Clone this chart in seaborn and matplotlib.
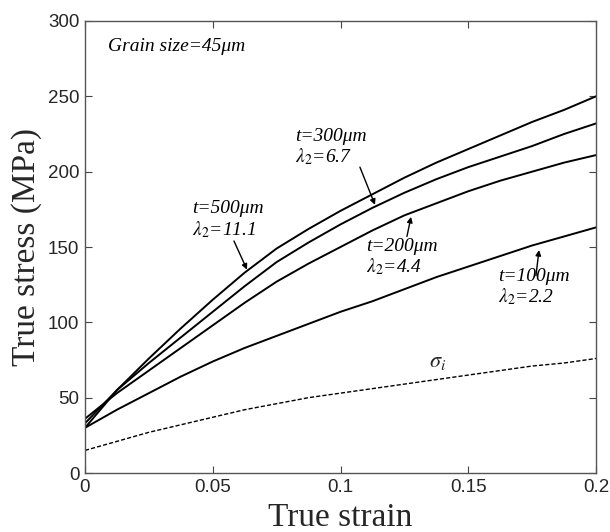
import numpy as np
import pandas as pd
import matplotlib
matplotlib.use('Agg')
import matplotlib.pyplot as plt
import seaborn as sns

# strain points
strain = [0, 0.0125, 0.025, 0.0375, 0.05, 0.0625, 0.075, 0.0875, 0.1,
          0.1125, 0.125, 0.1375, 0.15, 0.1625, 0.175, 0.1875, 0.2]
s_500 = [30, 55, 76, 96, 115, 133, 149, 162, 174, 185, 196, 206, 215, 224, 233, 241, 250]
s_300 = [33, 55, 73, 90, 107, 124, 140, 153, 165, 176, 186, 195, 203, 210, 217, 225, 232]
s_200 = [36, 53, 68, 83, 98, 113, 127, 139, 150, 161, 171, 179, 187, 194, 200, 206, 211]
s_100 = [30, 42, 53, 64, 74, 83, 91, 99, 107, 114, 122, 130, 137, 144, 151, 157, 163]
sigma_i = [15, 21, 27, 32, 37, 42, 46, 50, 53, 56, 59, 62, 65, 68, 71, 73, 76]

xticks = [0, 0.05, 0.1, 0.15, 0.2]
xtick_labels = ['0', '0.05', '0.1', '0.15', '0.2']
yticks = [0, 50, 100, 150, 200, 250, 300]

sns.set_style('ticks')
plt.rcParams['font.family'] = ['Liberation Sans', 'DejaVu Sans']
plt.rcParams['mathtext.fontset'] = 'stix'

n = len(strain)
df = pd.DataFrame({
    'strain': strain * 4,
    'stress': s_500 + s_300 + s_200 + s_100,
    'case': ['500'] * n + ['300'] * n + ['200'] * n + ['100'] * n,
})

fig = plt.figure(figsize=(6.1, 5.32), dpi=100)
ax = fig.add_axes([85 / 610, 59 / 532, 511 / 610, 452 / 532])

sns.lineplot(data=df, x='strain', y='stress', units='case', estimator=None,
             color='black', lw=1.4, ax=ax, legend=False)
sns.lineplot(x=strain, y=sigma_i, color='black', lw=1.0, ax=ax,
             linestyle=(0, (3, 1.5)))

ax.set_xlim(0, 0.2)
ax.set_ylim(0, 300)
ax.set_xticks(xticks)
ax.set_xticklabels(xtick_labels)
ax.set_yticks(yticks)
ax.tick_params(direction='in', length=5, width=0.8, labelsize=13.5, color='#444444',
               top=True, right=True, pad=4)
for sp in ax.spines.values():
    sp.set_color('#555555')
    sp.set_linewidth(1.0)

serif = ['Liberation Serif', 'DejaVu Serif']
ax.set_xlabel('True strain', fontsize=24, family=serif, labelpad=5)
ax.set_ylabel('True stress (MPa)', fontsize=24, family=serif, labelpad=4)

txt = dict(fontsize=14, family=serif, style='italic', color='black')
ax.text(0.009, 283, 'Grain size=45\u03bcm', va='center', **txt)

notes = [
    ('t=500\u03bcm\n$\\lambda_2$=11.1', (0.042, 168), (0.0583, 154), (0.0634, 135)),
    ('t=300\u03bcm\n$\\lambda_2$=6.7', (0.0822, 216), (0.1076, 203), (0.1135, 178)),
    ('t=200\u03bcm\n$\\lambda_2$=4.4', (0.110, 143), (0.126, 157), (0.1276, 170)),
    ('t=100\u03bcm\n$\\lambda_2$=2.2', (0.1616, 123), (0.1765, 131), (0.1777, 148)),
]
for label, tpos, astart, atip in notes:
    ax.text(tpos[0], tpos[1], label, va='center', ha='left', linespacing=1.1, **txt)
    ax.annotate('', xy=atip, xytext=astart,
                arrowprops=dict(arrowstyle='-|>', color='black', lw=1.0,
                                mutation_scale=8, shrinkA=0, shrinkB=0))

ax.text(0.138, 74, '$\\sigma_i$', fontsize=16, ha='center', va='center')

fig.savefig('out.png', dpi=100)
plt.close()
